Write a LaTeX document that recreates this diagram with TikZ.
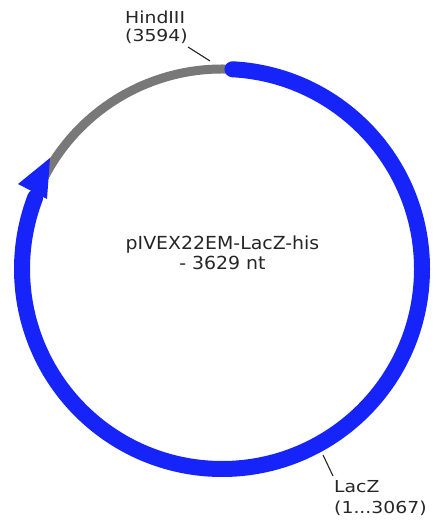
\documentclass[tikz,border=0pt]{standalone}
\usepackage{fontspec}
\setmainfont{DejaVu Sans}
\newfontfamily\labfont[FakeStretch=1.14]{DejaVu Sans}
\newfontfamily\titfont[FakeStretch=1.05]{DejaVu Sans}
\definecolor{ringblue}{RGB}{22,36,250}
\definecolor{ringgray}{RGB}{120,120,120}
\begin{document}
\begin{tikzpicture}[x=1pt,y=1pt,
  lab/.style={inner sep=0pt, anchor=base west, font=\labfont\fontsize{16.5}{20}\selectfont, text=black!85},
  tit/.style={inner sep=0pt, anchor=base, font=\titfont\fontsize{18}{20}\selectfont, text=black!85},
  leader/.style={draw=black!85, line width=1.1pt}]
\useasboundingbox (0,0) rectangle (433,522);
\coordinate (C) at (222,253);
% backbone (grey)
\draw[ringgray, line width=9pt] ([shift={(85:200)}]C) arc[start angle=85, end angle=160, radius=200];
% LacZ feature (blue)
\draw[ringblue, line width=16pt, line cap=round]
  ([shift={(87:200)}]C) arc[start angle=87, end angle=-201, radius=200];
% arrowhead
\coordinate (tip) at (50,364);
\coordinate (wl) at (18,338);
\coordinate (wr) at (47,323);
\fill[ringblue] (tip) -- (wl) -- (wr) -- cycle;
% title
\node[tit] (t1) at (222.5,272) {pIVEX22EM-LacZ-his};
\node[tit] (t2) at (222.5,252) {- 3629 nt};
% HindIII label
\node[lab] (h1) at (125,498.7) {HindIII};
\node[lab] (h2) at (125,480) {(3594)};
\coordinate (hring) at (210,461);
\coordinate (hend) at (188,475);
\draw[leader] (hring) -- (hend);
% LacZ label
\node[lab] (l1) at (334,29) {LacZ};
\node[lab] (l2) at (334,9) {(1...3067)};
\coordinate (lring) at (323,67);
\coordinate (lend) at (333,46);
\draw[leader] (lring) -- (lend);
\end{tikzpicture}
\end{document}
